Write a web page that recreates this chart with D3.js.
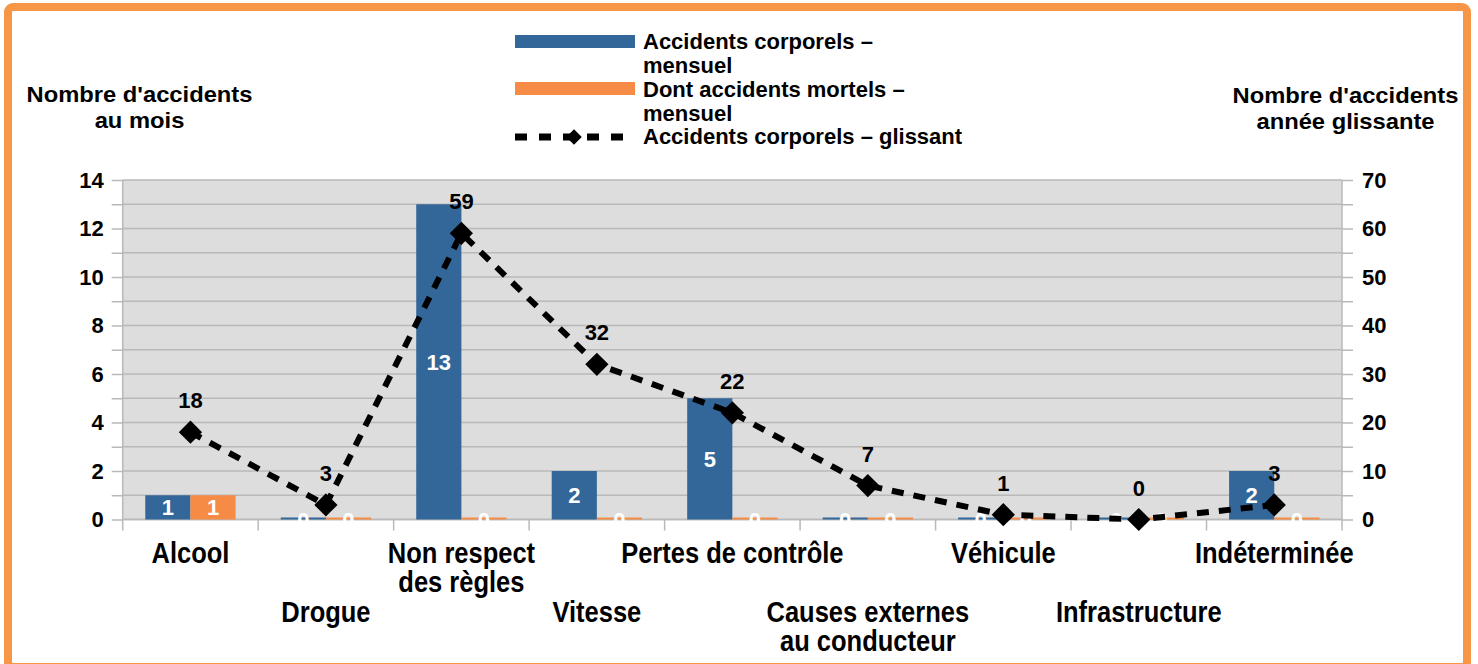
<!doctype html>
<html>
<head>
<meta charset="utf-8">
<script src="https://d3js.org/d3.v7.min.js"></script>
<style>
  body { margin: 0; background: #fff; }
  text { font-family: "Liberation Sans", Arial, sans-serif; font-weight: bold; }
</style>
</head>
<body>
<svg width="1478" height="664"></svg>
<script>
// data
var categories = [["Alcool"], ["Drogue"], ["Non respect", "des règles"], ["Vitesse"],
  ["Pertes de contrôle"], ["Causes externes", "au conducteur"], ["Véhicule"],
  ["Infrastructure"], ["Indéterminée"]];
var corporels = [1, 0, 13, 2, 5, 0, 0, 0, 2];
var mortels = [1, 0, 0, 0, 0, 0, 0, 0, 0];
var glissant = [18, 3, 59, 32, 22, 7, 1, 0, 3];
var leftTicks = [0, 1, 2, 3, 4, 5, 6, 7, 8, 9, 10, 11, 12, 13, 14];
var leftLabels = [0, 2, 4, 6, 8, 10, 12, 14];
var rightTicks = [0, 5, 10, 15, 20, 25, 30, 35, 40, 45, 50, 55, 60, 65, 70];
var rightLabels = [0, 10, 20, 30, 40, 50, 60, 70];
var seriesNames = [["Accidents corporels –", "mensuel"], ["Dont accidents mortels –", "mensuel"], ["Accidents corporels – glissant"]];

var blue = "#336699", orange = "#f68b45", grid = "#b9b9b9";
var svg = d3.select("svg");

// outer frame
svg.append("rect")
  .attr("x", 8).attr("y", 7).attr("width", 1459).attr("height", 660)
  .attr("rx", 5)
  .attr("fill", "none").attr("stroke", "#f79646").attr("stroke-width", 8);

var pLeft = 122.7, pRight = 1342, pTop = 180, pBottom = 519.5;

var x = d3.scaleBand().domain(d3.range(categories.length)).range([pLeft, pRight]);
var xs = d3.scaleBand().domain([0, 1]).range([0, x.bandwidth()]).paddingOuter(0.5);
var yL = d3.scaleLinear().domain([0, 14]).range([pBottom, pTop]);
var yR = d3.scaleLinear().domain([0, 70]).range([pBottom, pTop]);

// plot background
svg.append("rect")
  .attr("x", pLeft).attr("y", pTop).attr("width", pRight - pLeft).attr("height", pBottom - pTop)
  .attr("fill", "#dddddd");

// horizontal grid
svg.append("g").selectAll("line")
  .data(leftTicks).enter().append("line")
  .attr("x1", pLeft).attr("x2", pRight)
  .attr("y1", function(d) { return yL(d); }).attr("y2", function(d) { return yL(d); })
  .attr("stroke", grid).attr("stroke-width", 1.5);

// left axis
var gl = svg.append("g")
  .attr("transform", "translate(" + pLeft + ",0)")
  .call(d3.axisLeft(yL).tickValues(leftTicks).tickSize(11).tickPadding(8)
    .tickFormat(function(d) { return leftLabels.indexOf(d) >= 0 ? d : ""; }));
// right axis
var gr = svg.append("g")
  .attr("transform", "translate(" + pRight + ",0)")
  .call(d3.axisRight(yR).tickValues(rightTicks).tickSize(11).tickPadding(9)
    .tickFormat(function(d) { return rightLabels.indexOf(d) >= 0 ? d : ""; }));
[gl, gr].forEach(function(g) {
  g.select(".domain").remove();
  g.selectAll(".tick line").attr("stroke", grid).attr("stroke-width", 1.5);
  g.selectAll(".tick text").attr("fill", "#000").style("font-size", "22px")
    .style("font-family", "'Liberation Sans', Arial, sans-serif").style("font-weight", "bold");
});

// vertical frame lines and category ticks
svg.append("g").selectAll("line")
  .data(d3.range(categories.length + 1)).enter().append("line")
  .attr("x1", function(i) { return i < categories.length ? x(i) : pRight; })
  .attr("x2", function(i) { return i < categories.length ? x(i) : pRight; })
  .attr("y1", function(i) { return (i === 0 || i === categories.length) ? pTop : pBottom; })
  .attr("y2", pBottom + 11)
  .attr("stroke", grid).attr("stroke-width", 1.5);
svg.append("line")
  .attr("x1", pLeft).attr("x2", pRight).attr("y1", pBottom).attr("y2", pBottom)
  .attr("stroke", grid).attr("stroke-width", 1.5);

// bars
var barData = [];
categories.forEach(function(c, i) {
  barData.push({ i: i, s: 0, v: corporels[i], color: blue });
  barData.push({ i: i, s: 1, v: mortels[i], color: orange });
});
var bars = svg.append("g");
bars.selectAll("rect").data(barData).enter().append("rect")
  .attr("x", function(d) { return x(d.i) + xs(d.s); })
  .attr("width", xs.bandwidth())
  .attr("y", function(d) { return Math.min(yL(d.v), pBottom - 2); })
  .attr("height", function(d) { return Math.max(pBottom - yL(d.v), 2); })
  .attr("fill", function(d) { return d.color; });

// dashed line series
var line = d3.line()
  .x(function(d, i) { return x(i) + x.bandwidth() / 2; })
  .y(function(d) { return yR(d); });
svg.append("path")
  .datum(glissant)
  .attr("d", line)
  .attr("fill", "none").attr("stroke", "#000").attr("stroke-width", 6)
  .attr("stroke-dasharray", "12,10");

// bar value labels (white, drawn over the line like the original)
bars.selectAll("text").data(barData).enter().append("text")
  .attr("x", function(d) { return x(d.i) + xs(d.s) + xs.bandwidth() / 2; })
  .attr("y", function(d) { return (yL(d.v) + pBottom) / 2 + 8; })
  .attr("text-anchor", "middle")
  .attr("fill", "#fff").style("font-size", "22px")
  .text(function(d) { return d.v; });

var diamond = d3.symbol().type(d3.symbolSquare).size(270);
svg.append("g").selectAll("path")
  .data(glissant).enter().append("path")
  .attr("d", diamond)
  .attr("transform", function(d, i) {
    return "translate(" + (x(i) + x.bandwidth() / 2) + "," + yR(d) + ") rotate(45)";
  })
  .attr("fill", "#000");
svg.append("g").selectAll("text")
  .data(glissant).enter().append("text")
  .attr("x", function(d, i) { return x(i) + x.bandwidth() / 2; })
  .attr("y", function(d) { return yR(d) - 24; })
  .attr("text-anchor", "middle").style("font-size", "22px")
  .text(function(d) { return d; });

// category labels, staggered on two rows (condensed look)
var cat = svg.append("g").selectAll("text")
  .data(categories).enter().append("text")
  .attr("text-anchor", "middle")
  .style("font-size", "30px")
  .attr("transform", function(d, i) {
    return "translate(" + (x(i) + x.bandwidth() / 2) + "," + (i % 2 === 0 ? 563 : 622) + ") scale(0.85,1)";
  });
cat.selectAll("tspan").data(function(d) { return d; }).enter().append("tspan")
  .attr("x", 0)
  .attr("dy", function(d, j) { return j === 0 ? 0 : 29; })
  .text(function(d) { return d; });

// axis titles
function title(lines, cx, y0) {
  var t = svg.append("text").attr("text-anchor", "middle").style("font-size", "22px")
    .attr("transform", "translate(" + cx + "," + y0 + ") scale(1.08,1)");
  t.selectAll("tspan").data(lines).enter().append("tspan")
    .attr("x", 0).attr("dy", function(d, j) { return j === 0 ? 0 : 26; })
    .text(function(d) { return d; });
}
title(["Nombre d'accidents", "au mois"], 139.5, 102);
title(["Nombre d'accidents", "année glissante"], 1345.5, 103);

// legend
var lg = svg.append("g");
lg.append("rect").attr("x", 515).attr("y", 35).attr("width", 120).attr("height", 13).attr("fill", blue);
lg.append("rect").attr("x", 515).attr("y", 82).attr("width", 120).attr("height", 13).attr("fill", orange);
lg.append("line").attr("x1", 515).attr("x2", 635).attr("y1", 137).attr("y2", 137)
  .attr("stroke", "#000").attr("stroke-width", 7).attr("stroke-dasharray", "12,12");
lg.append("path").attr("d", d3.symbol().type(d3.symbolSquare).size(120))
  .attr("transform", "translate(574,137) rotate(45)").attr("fill", "#000");
var legendY = [[49, 73], [97, 120.5], [144]];
seriesNames.forEach(function(lines, k) {
  lines.forEach(function(s, j) {
    lg.append("text").attr("x", 643).attr("y", legendY[k][j])
      .style("font-size", "22px").text(s);
  });
});
</script>
</body>
</html>
